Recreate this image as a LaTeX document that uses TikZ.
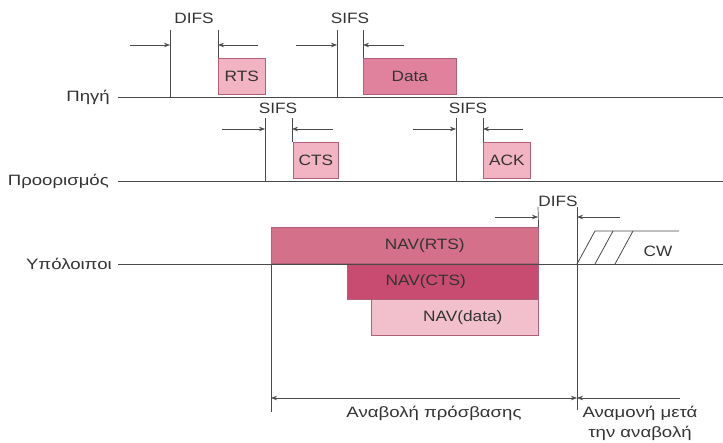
\documentclass[tikz,border=0pt]{standalone}
\usepackage{fontspec}
\setmainfont{Liberation Sans}[FakeStretch=1.15]
\newfontfamily\grfont{Liberation Sans}[FakeStretch=1.24]
\usetikzlibrary{arrows.meta}
\definecolor{linegray}{HTML}{4A4A4A}
\definecolor{textgray}{HTML}{333333}
\definecolor{lightpink}{HTML}{F2B3C3}
\definecolor{midpink}{HTML}{E0829E}
\definecolor{navrts}{HTML}{D5708A}
\definecolor{navcts}{HTML}{C84C72}
\definecolor{navdata}{HTML}{F2BFCC}
\definecolor{boxedge}{HTML}{B06078}
\begin{document}
\begin{tikzpicture}[x=1pt,y=-1pt,
  axis/.style={draw=linegray, line width=0.8pt},
  tick/.style={draw=linegray, line width=0.7pt},
  arr/.style={draw=linegray, line width=0.7pt, -{Stealth[length=6pt,width=4.5pt]}},
  darr/.style={draw=linegray, line width=0.7pt, {Stealth[length=6pt,width=4.5pt]}-{Stealth[length=6pt,width=4.5pt]}},
  lbl/.style={font=\fontsize{15}{17}\selectfont, text=textgray, inner sep=0pt},
  glbl/.style={font=\grfont\fontsize{15}{17}\selectfont, text=textgray, inner sep=0pt},
  frame/.style={draw=boxedge, line width=0.6pt, inner sep=0pt, anchor=north west,
    text=textgray, font=\fontsize{15}{17}\selectfont},
  hatch/.style={draw=linegray, line width=0.8pt}]
\useasboundingbox (0,0) rectangle (723,443);

% row labels and time axes
\node[glbl, anchor=east] (src) at (110,97) {Πηγή};
\node[glbl, anchor=east] (dst) at (109,181) {Προορισμός};
\node[glbl, anchor=east] (oth) at (112,264) {Υπόλοιποι};
\coordinate (srcL) at (118,97);  \coordinate (srcR) at (723,97);
\coordinate (dstL) at (118,181); \coordinate (dstR) at (723,181);

% ---------- source ----------
\node[frame, fill=lightpink, minimum width=47pt, minimum height=36pt] (rts) at (218,58) {RTS};
\node[frame, fill=midpink, minimum width=93pt, minimum height=36pt] (data) at (363,58) {Data};
\draw[axis] (srcL) -- (srcR);

\coordinate (d1t) at (170,30); \coordinate (d1b) at (170,97);
\coordinate (d2t) at (218,30); \coordinate (d2b) at (218,58);
\draw[tick] (d1t) -- (d1b);
\draw[tick] (d2t) -- (d2b);
\node[lbl] (difs1) at (194,18) {DIFS};
\coordinate (a1s) at (130,45); \coordinate (a1e) at (170,45);
\coordinate (a2s) at (258,45); \coordinate (a2e) at (218,45);
\draw[arr] (a1s) -- (a1e);
\draw[arr] (a2s) -- (a2e);

\coordinate (s1t) at (337,30); \coordinate (s1b) at (337,97);
\coordinate (s2t) at (363,30); \coordinate (s2b) at (363,58);
\draw[tick] (s1t) -- (s1b);
\draw[tick] (s2t) -- (s2b);
\node[lbl] (sifs1) at (350,18) {SIFS};
\coordinate (b1s) at (296,45); \coordinate (b1e) at (337,45);
\coordinate (b2s) at (404,45); \coordinate (b2e) at (363,45);
\draw[arr] (b1s) -- (b1e);
\draw[arr] (b2s) -- (b2e);

% ---------- destination ----------
\node[frame, fill=lightpink, minimum width=45pt, minimum height=36pt] (cts) at (293,142) {CTS};
\node[frame, fill=lightpink, minimum width=47pt, minimum height=36pt] (ack) at (483,142) {ACK};
\draw[axis] (dstL) -- (dstR);

\coordinate (s3t) at (265,118); \coordinate (s3b) at (265,181);
\coordinate (s4t) at (292,118); \coordinate (s4b) at (292,142);
\draw[tick] (s3t) -- (s3b);
\draw[tick] (s4t) -- (s4b);
\node[lbl] (sifs2) at (278,108) {SIFS};
\coordinate (c1s) at (222,129); \coordinate (c1e) at (265,129);
\coordinate (c2s) at (333,129); \coordinate (c2e) at (292,129);
\draw[arr] (c1s) -- (c1e);
\draw[arr] (c2s) -- (c2e);

\coordinate (s5t) at (456,118); \coordinate (s5b) at (456,181);
\coordinate (s6t) at (483,118); \coordinate (s6b) at (483,142);
\draw[tick] (s5t) -- (s5b);
\draw[tick] (s6t) -- (s6b);
\node[lbl] (sifs3) at (468,108) {SIFS};
\coordinate (e1s) at (413,129); \coordinate (e1e) at (456,129);
\coordinate (e2s) at (523,129); \coordinate (e2e) at (483,129);
\draw[arr] (e1s) -- (e1e);
\draw[arr] (e2s) -- (e2e);

% ---------- others ----------
\node[frame, fill=navrts, minimum width=267pt, minimum height=36pt] (navrts) at (271,227) {\hspace*{40pt}NAV(RTS)};
\node[frame, fill=navcts, minimum width=191pt, minimum height=36pt] (navcts) at (347,263) {NAV(CTS)\hspace*{34pt}};
\node[frame, fill=navdata, minimum width=167pt, minimum height=36pt] (navdata) at (371,299) {\hspace*{16pt}NAV(data)};
\coordinate (othL) at (118,264); \coordinate (othR) at (723,264);
\draw[axis] (othL) -- (othR);

\coordinate (v1t) at (271,264); \coordinate (v1b) at (271,412);
\draw[tick] (v1t) -- (v1b);
\coordinate (v2t) at (538,207);
\draw[tick] (v2t) -- (navrts.north east);
\coordinate (v3t) at (577,207); \coordinate (v3b) at (577,410);
\draw[tick] (v3t) -- (v3b);
\node[lbl] (difs2) at (558,201) {DIFS};
\coordinate (f1s) at (495,217); \coordinate (f1e) at (538,217);
\coordinate (f2s) at (620,217); \coordinate (f2e) at (577,217);
\draw[arr] (f1s) -- (f1e);
\draw[arr] (f2s) -- (f2e);

% contention window
\coordinate (w0) at (577,264); \coordinate (w1) at (595,231); \coordinate (w2) at (679,231);
\coordinate (h1b) at (595,264); \coordinate (h1t) at (613,231);
\coordinate (h2b) at (615,264); \coordinate (h2t) at (633,231);
\draw[hatch] (w0) -- (w1) -- (w2);
\draw[hatch] (h1b) -- (h1t);
\draw[hatch] (h2b) -- (h2t);
\node[lbl] (cw) at (658,251) {CW};

% bottom dimension arrows
\coordinate (g1) at (271,398); \coordinate (g2) at (577,398);
\coordinate (g3) at (680,398); \coordinate (g4) at (577,398);
\draw[darr] (g1) -- (g2);
\draw[arr] (g3) -- (g4);
\node[glbl] (defer) at (434,413) {Αναβολή πρόσβασης};
\node[glbl, align=center, font=\grfont\fontsize{15}{20}\selectfont] (wait) at (640,423) {Αναμονή μετά\\την αναβολή};
\end{tikzpicture}
\end{document}
